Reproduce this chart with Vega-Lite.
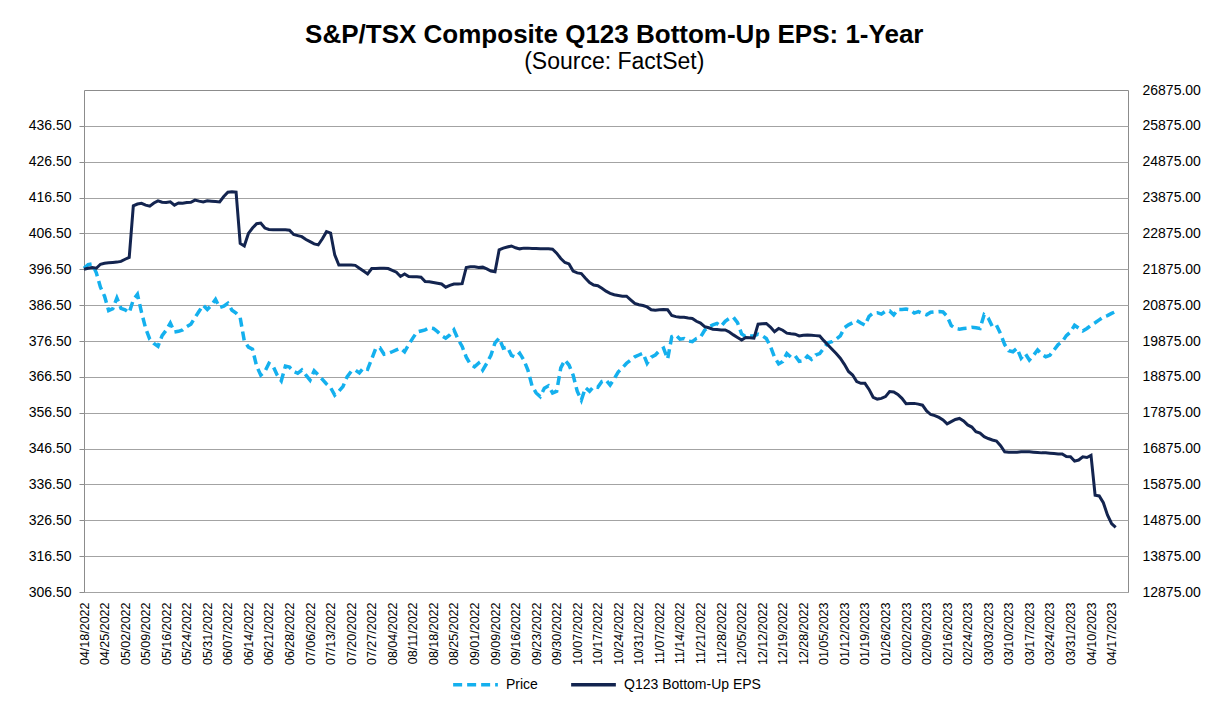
{
  "$schema": "https://vega.github.io/schema/vega-lite/v6.json",
  "width": 1044,
  "height": 502,
  "autosize": {"type": "none"},
  "padding": {"left": 84, "top": 90, "right": 104, "bottom": 119},
  "background": "white",
  "title": {
    "text": "S&P/TSX Composite Q123 Bottom-Up EPS: 1-Year",
    "subtitle": "(Source: FactSet)",
    "font": "Liberation Sans",
    "fontSize": 26,
    "fontWeight": "bold",
    "color": "black",
    "subtitleFont": "Liberation Sans",
    "subtitleFontSize": 23,
    "subtitleColor": "black",
    "subtitlePadding": 3,
    "anchor": "middle",
    "frame": "bounds",
    "offset": 9
  },
  "data": {
    "values": [
      {"d":"2022-04-18","p":21905,"e":396.5},{"d":"2022-04-19","p":22005,"e":396.8},{"d":"2022-04-20","p":22025,"e":397.0},{"d":"2022-04-21","p":21775,"e":396.8},{"d":"2022-04-22","p":21375,"e":397.9},
      {"d":"2022-04-25","p":21125,"e":398.2},{"d":"2022-04-26","p":20725,"e":398.3},{"d":"2022-04-27","p":20775,"e":398.4},{"d":"2022-04-28","p":21075,"e":398.5},{"d":"2022-04-29","p":20785,"e":398.7},
      {"d":"2022-05-02","p":20745,"e":399.3},{"d":"2022-05-03","p":20665,"e":399.8},{"d":"2022-05-04","p":21025,"e":414.2},{"d":"2022-05-05","p":21175,"e":414.7},{"d":"2022-05-06","p":20675,"e":414.9},
      {"d":"2022-05-09","p":20225,"e":414.4},{"d":"2022-05-10","p":19925,"e":414.1},{"d":"2022-05-11","p":19805,"e":415.0},{"d":"2022-05-12","p":19725,"e":415.6},{"d":"2022-05-13","p":20025,"e":415.2},
      {"d":"2022-05-16","p":20175,"e":415.1},{"d":"2022-05-17","p":20375,"e":415.3},{"d":"2022-05-18","p":20125,"e":414.4},{"d":"2022-05-19","p":20145,"e":415.0},{"d":"2022-05-20","p":20185,"e":414.9},
      {"d":"2022-05-24","p":20275,"e":415.1},{"d":"2022-05-25","p":20345,"e":415.2},{"d":"2022-05-26","p":20525,"e":415.8},{"d":"2022-05-27","p":20705,"e":415.5},{"d":"2022-05-30","p":20875,"e":415.3},
      {"d":"2022-05-31","p":20755,"e":415.6},{"d":"2022-06-01","p":20875,"e":415.5},{"d":"2022-06-02","p":21035,"e":415.4},{"d":"2022-06-03","p":20805,"e":415.3},{"d":"2022-06-06","p":20845,"e":416.8},
      {"d":"2022-06-07","p":20925,"e":418.0},{"d":"2022-06-08","p":20735,"e":418.1},{"d":"2022-06-09","p":20655,"e":418.0},{"d":"2022-06-10","p":20525,"e":403.7},{"d":"2022-06-13","p":19875,"e":403.0},
      {"d":"2022-06-14","p":19705,"e":406.5},{"d":"2022-06-15","p":19645,"e":408.0},{"d":"2022-06-16","p":19175,"e":409.2},{"d":"2022-06-17","p":18925,"e":409.4},{"d":"2022-06-20","p":19025,"e":408.0},
      {"d":"2022-06-21","p":19255,"e":407.6},{"d":"2022-06-22","p":19175,"e":407.5},{"d":"2022-06-23","p":18925,"e":407.5},{"d":"2022-06-24","p":18765,"e":407.5},{"d":"2022-06-27","p":19175,"e":407.5},
      {"d":"2022-06-28","p":19145,"e":407.4},{"d":"2022-06-29","p":19025,"e":406.2},{"d":"2022-06-30","p":18975,"e":405.9},{"d":"2022-07-04","p":19065,"e":405.6},{"d":"2022-07-05","p":18925,"e":404.8},
      {"d":"2022-07-06","p":18785,"e":404.2},{"d":"2022-07-07","p":19045,"e":403.6},{"d":"2022-07-08","p":18925,"e":403.3},{"d":"2022-07-11","p":18805,"e":405.0},{"d":"2022-07-12","p":18675,"e":407.0},
      {"d":"2022-07-13","p":18575,"e":406.6},{"d":"2022-07-14","p":18365,"e":400.5},{"d":"2022-07-15","p":18475,"e":397.7},{"d":"2022-07-18","p":18605,"e":397.7},{"d":"2022-07-19","p":18875,"e":397.7},
      {"d":"2022-07-20","p":19025,"e":397.7},{"d":"2022-07-21","p":19065,"e":397.6},{"d":"2022-07-22","p":18985,"e":396.8},{"d":"2022-07-25","p":19125,"e":396.0},{"d":"2022-07-26","p":19085,"e":395.2},
      {"d":"2022-07-27","p":19375,"e":396.7},{"d":"2022-07-28","p":19675,"e":396.7},{"d":"2022-07-29","p":19685,"e":396.8},{"d":"2022-08-02","p":19505,"e":396.8},{"d":"2022-08-03","p":19525,"e":396.7},
      {"d":"2022-08-04","p":19575,"e":396.2},{"d":"2022-08-05","p":19625,"e":395.7},{"d":"2022-08-08","p":19675,"e":394.5},{"d":"2022-08-09","p":19575,"e":395.2},{"d":"2022-08-10","p":19775,"e":394.5},
      {"d":"2022-08-11","p":19955,"e":394.4},{"d":"2022-08-12","p":20125,"e":394.4},{"d":"2022-08-15","p":20155,"e":394.3},{"d":"2022-08-16","p":20185,"e":393.1},{"d":"2022-08-17","p":20245,"e":393.0},
      {"d":"2022-08-18","p":20225,"e":392.8},{"d":"2022-08-19","p":20135,"e":392.6},{"d":"2022-08-22","p":20025,"e":392.4},{"d":"2022-08-23","p":19955,"e":391.5},{"d":"2022-08-24","p":20045,"e":392.0},
      {"d":"2022-08-25","p":20185,"e":392.4},{"d":"2022-08-26","p":19925,"e":392.4},{"d":"2022-08-29","p":19725,"e":392.5},{"d":"2022-08-30","p":19425,"e":397.0},{"d":"2022-08-31","p":19225,"e":397.2},
      {"d":"2022-09-01","p":19155,"e":397.2},{"d":"2022-09-02","p":19255,"e":397.0},{"d":"2022-09-06","p":19065,"e":397.1},{"d":"2022-09-07","p":19255,"e":396.6},{"d":"2022-09-08","p":19475,"e":396.0},
      {"d":"2022-09-09","p":19825,"e":395.8},{"d":"2022-09-12","p":19955,"e":401.9},{"d":"2022-09-13","p":19675,"e":402.4},{"d":"2022-09-14","p":19705,"e":402.7},{"d":"2022-09-15","p":19475,"e":403.0},
      {"d":"2022-09-16","p":19425,"e":402.5},{"d":"2022-09-19","p":19535,"e":402.2},{"d":"2022-09-20","p":19345,"e":402.4},{"d":"2022-09-21","p":19065,"e":402.4},{"d":"2022-09-22","p":18625,"e":402.3},
      {"d":"2022-09-23","p":18425,"e":402.3},{"d":"2022-09-26","p":18325,"e":402.2},{"d":"2022-09-27","p":18555,"e":402.2},{"d":"2022-09-28","p":18625,"e":402.2},{"d":"2022-09-29","p":18425,"e":402.1},
      {"d":"2022-09-30","p":18475,"e":401.0},{"d":"2022-10-03","p":19125,"e":399.5},{"d":"2022-10-04","p":19345,"e":398.4},{"d":"2022-10-05","p":19205,"e":398.0},{"d":"2022-10-06","p":18925,"e":396.0},
      {"d":"2022-10-07","p":18475,"e":395.5},{"d":"2022-10-11","p":18225,"e":395.3},{"d":"2022-10-12","p":18575,"e":394.0},{"d":"2022-10-13","p":18475,"e":392.8},{"d":"2022-10-14","p":18605,"e":392.1},
      {"d":"2022-10-17","p":18585,"e":391.9},{"d":"2022-10-18","p":18745,"e":391.2},{"d":"2022-10-19","p":18785,"e":390.4},{"d":"2022-10-20","p":18645,"e":389.8},{"d":"2022-10-21","p":18825,"e":389.4},
      {"d":"2022-10-24","p":19015,"e":389.2},{"d":"2022-10-25","p":19125,"e":389.0},{"d":"2022-10-26","p":19255,"e":389.0},{"d":"2022-10-27","p":19345,"e":388.0},{"d":"2022-10-28","p":19435,"e":387.0},
      {"d":"2022-10-31","p":19485,"e":386.6},{"d":"2022-11-01","p":19535,"e":386.4},{"d":"2022-11-02","p":19255,"e":386.0},{"d":"2022-11-03","p":19425,"e":385.2},{"d":"2022-11-04","p":19485,"e":385.1},
      {"d":"2022-11-07","p":19605,"e":385.2},{"d":"2022-11-08","p":19675,"e":385.3},{"d":"2022-11-09","p":19375,"e":385.2},{"d":"2022-11-10","p":19995,"e":383.6},{"d":"2022-11-11","p":20045,"e":383.3},
      {"d":"2022-11-14","p":19925,"e":383.1},{"d":"2022-11-15","p":19945,"e":383.1},{"d":"2022-11-16","p":19875,"e":382.9},{"d":"2022-11-17","p":19855,"e":382.8},{"d":"2022-11-18","p":19945,"e":382.0},
      {"d":"2022-11-21","p":19985,"e":381.5},{"d":"2022-11-22","p":20175,"e":380.5},{"d":"2022-11-23","p":20275,"e":380.2},{"d":"2022-11-24","p":20325,"e":379.8},{"d":"2022-11-25","p":20365,"e":379.7},
      {"d":"2022-11-28","p":20285,"e":379.6},{"d":"2022-11-29","p":20425,"e":379.6},{"d":"2022-11-30","p":20505,"e":379.0},{"d":"2022-12-01","p":20535,"e":378.2},{"d":"2022-12-02","p":20385,"e":377.5},
      {"d":"2022-12-05","p":20075,"e":376.8},{"d":"2022-12-06","p":19995,"e":377.5},{"d":"2022-12-07","p":20015,"e":377.4},{"d":"2022-12-08","p":20015,"e":377.3},{"d":"2022-12-09","p":20065,"e":381.2},
      {"d":"2022-12-12","p":20025,"e":381.3},{"d":"2022-12-13","p":19945,"e":381.4},{"d":"2022-12-14","p":19725,"e":380.4},{"d":"2022-12-15","p":19425,"e":379.1},{"d":"2022-12-16","p":19235,"e":380.0},
      {"d":"2022-12-19","p":19305,"e":379.5},{"d":"2022-12-20","p":19525,"e":378.7},{"d":"2022-12-21","p":19425,"e":378.5},{"d":"2022-12-22","p":19465,"e":378.4},{"d":"2022-12-23","p":19305,"e":377.9},
      {"d":"2022-12-28","p":19325,"e":378.1},{"d":"2022-12-29","p":19455,"e":378.2},{"d":"2022-12-30","p":19365,"e":378.1},{"d":"2023-01-03","p":19485,"e":378.0},{"d":"2023-01-04","p":19525,"e":377.9},
      {"d":"2023-01-05","p":19675,"e":376.6},{"d":"2023-01-06","p":19825,"e":375.4},{"d":"2023-01-09","p":19855,"e":374.2},{"d":"2023-01-10","p":19925,"e":373.0},{"d":"2023-01-11","p":20015,"e":371.7},
      {"d":"2023-01-12","p":20245,"e":370.0},{"d":"2023-01-13","p":20325,"e":368.0},{"d":"2023-01-16","p":20385,"e":367.0},{"d":"2023-01-17","p":20445,"e":365.2},{"d":"2023-01-18","p":20375,"e":364.7},
      {"d":"2023-01-19","p":20315,"e":364.7},{"d":"2023-01-20","p":20565,"e":363.0},{"d":"2023-01-23","p":20655,"e":360.8},{"d":"2023-01-24","p":20665,"e":360.3},{"d":"2023-01-25","p":20625,"e":360.5},
      {"d":"2023-01-26","p":20705,"e":361.0},{"d":"2023-01-27","p":20715,"e":362.4},{"d":"2023-01-30","p":20605,"e":362.3},{"d":"2023-01-31","p":20755,"e":361.6},{"d":"2023-02-01","p":20755,"e":360.5},
      {"d":"2023-02-02","p":20765,"e":359.0},{"d":"2023-02-03","p":20745,"e":359.1},{"d":"2023-02-06","p":20655,"e":359.1},{"d":"2023-02-07","p":20695,"e":358.9},{"d":"2023-02-08","p":20645,"e":358.6},
      {"d":"2023-02-09","p":20605,"e":357.0},{"d":"2023-02-10","p":20675,"e":356.0},{"d":"2023-02-13","p":20685,"e":355.7},{"d":"2023-02-14","p":20695,"e":355.2},{"d":"2023-02-15","p":20685,"e":354.5},
      {"d":"2023-02-16","p":20565,"e":353.4},{"d":"2023-02-17","p":20305,"e":354.0},{"d":"2023-02-21","p":20225,"e":354.6},{"d":"2023-02-22","p":20205,"e":354.9},{"d":"2023-02-23","p":20225,"e":354.2},
      {"d":"2023-02-24","p":20235,"e":353.1},{"d":"2023-02-27","p":20255,"e":352.5},{"d":"2023-02-28","p":20245,"e":351.2},{"d":"2023-03-01","p":20225,"e":350.8},{"d":"2023-03-02","p":20605,"e":349.8},
      {"d":"2023-03-03","p":20515,"e":349.3},{"d":"2023-03-06","p":20275,"e":348.9},{"d":"2023-03-07","p":20315,"e":348.6},{"d":"2023-03-08","p":20075,"e":347.3},{"d":"2023-03-09","p":19775,"e":345.6},
      {"d":"2023-03-10","p":19605,"e":345.5},{"d":"2023-03-13","p":19575,"e":345.5},{"d":"2023-03-14","p":19675,"e":345.5},{"d":"2023-03-15","p":19395,"e":345.6},{"d":"2023-03-16","p":19525,"e":345.6},
      {"d":"2023-03-17","p":19345,"e":345.6},{"d":"2023-03-20","p":19475,"e":345.5},{"d":"2023-03-21","p":19625,"e":345.4},{"d":"2023-03-22","p":19505,"e":345.3},{"d":"2023-03-23","p":19435,"e":345.3},
      {"d":"2023-03-24","p":19475,"e":345.2},{"d":"2023-03-27","p":19625,"e":345.1},{"d":"2023-03-28","p":19775,"e":345.0},{"d":"2023-03-29","p":19855,"e":345.0},{"d":"2023-03-30","p":20025,"e":344.3},
      {"d":"2023-03-31","p":20125,"e":344.2},{"d":"2023-04-03","p":20315,"e":343.0},{"d":"2023-04-04","p":20235,"e":343.3},{"d":"2023-04-05","p":20155,"e":344.2},{"d":"2023-04-06","p":20225,"e":344.0},
      {"d":"2023-04-10","p":20315,"e":344.6},{"d":"2023-04-11","p":20385,"e":333.5},{"d":"2023-04-12","p":20465,"e":333.3},{"d":"2023-04-13","p":20545,"e":331.4},{"d":"2023-04-14","p":20585,"e":328.0},
      {"d":"2023-04-17","p":20645,"e":325.6},{"d":"2023-04-18","p":20695,"e":324.5},{"d":"2023-04-19"},{"d":"2023-04-20"},{"d":"2023-04-21"}
    ]
  },
  "encoding": {
    "x": {
      "field": "d",
      "type": "ordinal",
      "scale": {"padding": 0},
      "axis": {
        "title": null,
        "values": ["2022-04-18","2022-04-25","2022-05-02","2022-05-09","2022-05-16","2022-05-24","2022-05-31","2022-06-07","2022-06-14","2022-06-21","2022-06-28","2022-07-06","2022-07-13","2022-07-20","2022-07-27","2022-08-04","2022-08-11","2022-08-18","2022-08-25","2022-09-01","2022-09-09","2022-09-16","2022-09-23","2022-09-30","2022-10-07","2022-10-17","2022-10-24","2022-10-31","2022-11-07","2022-11-14","2022-11-21","2022-11-28","2022-12-05","2022-12-12","2022-12-19","2022-12-28","2023-01-05","2023-01-12","2023-01-19","2023-01-26","2023-02-02","2023-02-09","2023-02-16","2023-02-24","2023-03-03","2023-03-10","2023-03-17","2023-03-24","2023-03-31","2023-04-10","2023-04-17"],
        "labelExpr": "substring(datum.value, 5, 7) + '/' + substring(datum.value, 8, 10) + '/' + substring(datum.value, 0, 4)",
        "labelAngle": -90,
        "labelFontSize": 12.5,
        "labelPadding": 10,
        "ticks": false,
        "domain": false,
        "grid": false
      }
    }
  },
  "layer": [
    {
      "mark": {"type": "point", "opacity": 0},
      "encoding": {}
    },
    {
      "mark": {"type": "line", "strokeWidth": 3.5, "strokeDash": [9, 5]},
      "encoding": {
        "y": {
          "field": "p",
          "type": "quantitative",
          "scale": {"domain": [12875, 26875], "nice": false, "zero": false},
          "axis": {
            "orient": "right",
            "title": null,
            "values": [12875, 13875, 14875, 15875, 16875, 17875, 18875, 19875, 20875, 21875, 22875, 23875, 24875, 25875, 26875],
            "format": ".2f",
            "ticks": false,
            "labelPadding": 14,
            "domain": false,
            "grid": false
          }
        },
        "color": {
          "datum": "Price",
          "legend": {
            "encode": {
              "symbols": {
                "update": {
                  "strokeDash": {"signal": "datum.label === 'Price' ? [9, 5] : [1, 0]"}
                }
              }
            }
          }
        }
      }
    },
    {
      "mark": {"type": "line", "strokeWidth": 3},
      "encoding": {
        "y": {
          "field": "e",
          "type": "quantitative",
          "scale": {"domain": [306.5, 446.5], "nice": false, "zero": false},
          "axis": {
            "orient": "left",
            "title": null,
            "values": [306.5, 316.5, 326.5, 336.5, 346.5, 356.5, 366.5, 376.5, 386.5, 396.5, 406.5, 416.5, 426.5, 436.5],
            "format": ".2f",
            "tickSize": 5,
            "labelPadding": 8,
            "domain": false,
            "grid": true
          }
        },
        "color": {"datum": "Q123 Bottom-Up EPS"}
      }
    }
  ],
  "resolve": {"scale": {"y": "independent"}},
  "config": {
    "font": "Liberation Sans",
    "view": {"stroke": "#8c8c8c", "strokeWidth": 1},
    "axis": {
      "labelFont": "Liberation Sans",
      "labelFontSize": 14,
      "labelColor": "black",
      "gridColor": "#a3a3a3",
      "gridWidth": 1,
      "tickColor": "#8c8c8c"
    },
    "range": {"category": ["#14b0ee", "#13244f"]},
    "legend": {
      "orient": "bottom",
      "direction": "horizontal",
      "layout": {"bottom": {"anchor": "middle"}},
      "title": null,
      "offset": -5,
      "symbolType": "stroke",
      "symbolSize": 2000,
      "symbolStrokeWidth": 3.5,
      "labelFont": "Liberation Sans",
      "labelFontSize": 14,
      "labelColor": "black",
      "labelOffset": 6,
      "columnPadding": 26,
      "symbolOpacity": 1
    }
  }
}
